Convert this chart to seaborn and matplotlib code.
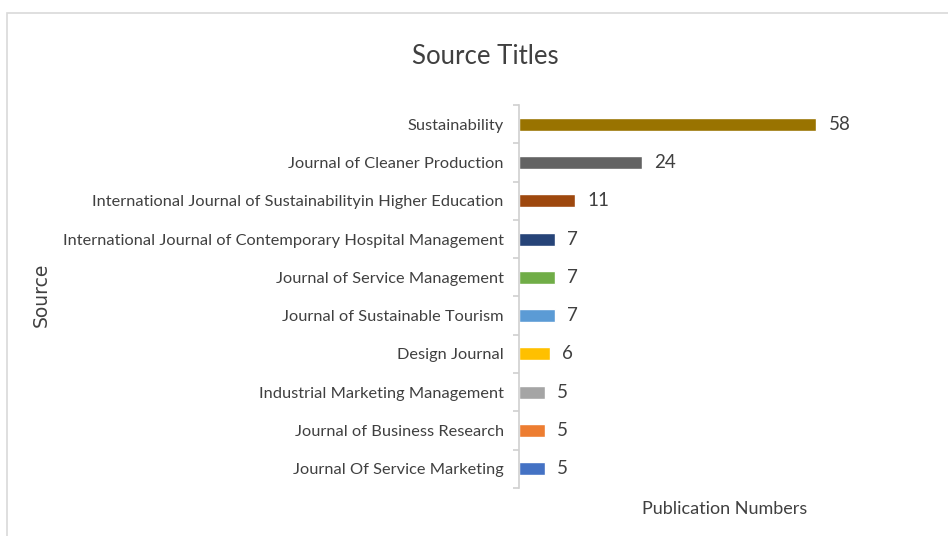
import matplotlib
matplotlib.use("Agg")
import matplotlib.pyplot as plt
import seaborn as sns
import numpy as np
import pandas as pd
from matplotlib.patches import Rectangle

sources = [
    "Sustainability",
    "Journal of Cleaner Production",
    "International Journal of Sustainabilityin Higher Education",
    "International Journal of Contemporary Hospital Management",
    "Journal of Service Management",
    "Journal of Sustainable Tourism",
    "Design Journal",
    "Industrial Marketing Management",
    "Journal of Business Research",
    "Journal Of Service Marketing",
]
counts = [58, 24, 11, 7, 7, 7, 6, 5, 5, 5]
bar_colors = ["#997300", "#636363", "#9E480E", "#264478", "#70AD47",
              "#5B9BD5", "#FFC000", "#A5A5A5", "#ED7D31", "#4472C4"]

sns.set_theme(style="white")
plt.rcParams["font.family"] = ["Lato", "DejaVu Sans"]

df = pd.DataFrame({"Source": sources, "Count": counts})

fig = plt.figure(figsize=(9.48, 5.36), dpi=100)
ax = fig.add_axes([519/948, 1-488/536, 340/948, (488-105)/536])

sns.barplot(data=df, x="Count", y="Source", hue="Source",
            palette=dict(zip(sources, bar_colors)), width=0.34,
            legend=False, ax=ax, saturation=1)

ax.set_xlim(0, 340/5.12)
ax.set_ylim(9.5, -0.5)
txt = "#404040"
for c in ax.containers:
    ax.bar_label(c, padding=9, fontsize=13.5, color=txt)

for s in ["top", "right", "bottom"]:
    ax.spines[s].set_visible(False)
ax.spines["left"].set_color("#D0D0D0")
ax.spines["left"].set_linewidth(1.2)
ax.xaxis.set_visible(False)
ax.tick_params(axis="y", which="major", left=False, length=0, pad=11,
               labelsize=11.8, labelcolor=txt)
ax.set_yticks(np.arange(-0.5, 10, 1), minor=True)
ax.tick_params(axis="y", which="minor", left=True, length=4, color="#D0D0D0", width=1.2)
ax.set_ylabel("")
ax.set_xlabel("")

fig.text(485/948, 1-57/536, "Source Titles", ha="center", va="center",
         fontsize=18.5, color=txt)
fig.text(41/948, 1-295/536, "Source", ha="center", va="center",
         rotation=90, fontsize=13.5, color=txt, family=["DejaVu Sans"])
fig.text(725/948, 1-509/536, "Publication Numbers", ha="center", va="center",
         fontsize=13, color=txt)

fig.patches.append(Rectangle((7/948, -0.1), 1.2, 1.1-13/536, transform=fig.transFigure,
                             fill=False, edgecolor="#D9D9D9", linewidth=1.2))

fig.savefig("out.png", dpi=100)
